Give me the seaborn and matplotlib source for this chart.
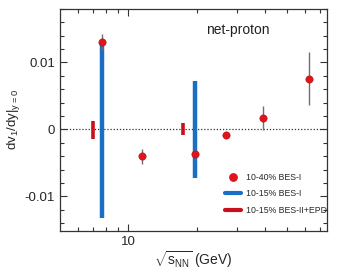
import matplotlib
matplotlib.use("Agg")
import matplotlib.pyplot as plt
from matplotlib.lines import Line2D
from matplotlib.ticker import FixedLocator, MultipleLocator, NullFormatter
import numpy as np
import pandas as pd
import seaborn as sns

# 10-40% BES-I (points)
energy_bes1 = [7.7, 11.5, 19.6, 27, 39, 62.4]
v1_bes1 = [0.0131, -0.0040, -0.0037, -0.00085, 0.00165, 0.0076]
err_bes1 = [0.0012, 0.0011, 0.0008, 0.0005, 0.0018, 0.0039]

# 10-15% BES-I (bands)
energy_c1 = [7.7, 19.6]
v1_c1 = [0.0, 0.0]
err_c1 = [0.0132, 0.0072]

# 10-15% BES-II+EPD (bands)
energy_c2 = [7.0, 17.5]
v1_c2 = [-0.00015, 0.0]
err_c2 = [0.00135, 0.0009]

red = "#e0141e"
blue = "#1a6fc4"
darkred = "#c8101a"

sns.set_style("ticks")
plt.rcParams["font.family"] = ["Liberation Sans", "DejaVu Sans"]
plt.rcParams["mathtext.fontset"] = "custom"
plt.rcParams["mathtext.rm"] = "Liberation Sans"
plt.rcParams["mathtext.it"] = "Liberation Sans"

fig = plt.figure(figsize=(3.4, 2.7), dpi=100)
ax = fig.add_axes([0.176, 0.144, 0.786, 0.823])

ax.axhline(0, color="#333333", ls=(0, (1, 1.5)), lw=0.9, zorder=1)

ax.vlines(energy_c1, np.array(v1_c1) - err_c1, np.array(v1_c1) + err_c1,
          color=blue, lw=3.2, zorder=2)
ax.vlines(energy_c2, np.array(v1_c2) - err_c2, np.array(v1_c2) + err_c2,
          color=darkred, lw=2.6, zorder=2)

ax.errorbar(energy_bes1, v1_bes1, yerr=err_bes1, fmt="none",
            ecolor="#707070", elinewidth=1.0, zorder=3)
df = pd.DataFrame({"e": energy_bes1, "v1": v1_bes1})
sns.scatterplot(data=df, x="e", y="v1", ax=ax, color=red, s=28,
                edgecolor="#b01010", linewidth=0.4, zorder=4)

ax.set_xscale("log")
ax.set_xlim(5, 75)
ax.set_ylim(-0.0152, 0.018)
ax.xaxis.set_major_locator(FixedLocator([10]))
ax.xaxis.set_minor_locator(FixedLocator([6, 7, 8, 9, 20, 30, 40, 50, 60, 70]))
ax.xaxis.set_minor_formatter(NullFormatter())
ax.set_xticklabels(["10"])
ax.yaxis.set_major_locator(FixedLocator([-0.01, 0, 0.01]))
ax.set_yticklabels(["-0.01", "0", "0.01"])
ax.yaxis.set_minor_locator(MultipleLocator(0.002))

ax.tick_params(which="both", direction="in", top=True, right=True,
               labelsize=9.5, width=0.8, color="#333333")
ax.tick_params(which="major", length=5)
ax.tick_params(which="minor", length=3)
for s in ax.spines.values():
    s.set_linewidth(0.9)
    s.set_color("#333333")

ax.set_xlabel(r"$\sqrt{s_{\rm NN}}$ (GeV)", fontsize=10, labelpad=1)
ax.set_ylabel(r"dv$_1$/dy|$_{y=0}$", fontsize=9.5, labelpad=2)
ax.text(0.665, 0.905, "net-proton", transform=ax.transAxes, fontsize=10,
        ha="center", va="center", color="#222222")

handles = [
    Line2D([], [], marker="o", ls="none", color=red, markersize=5.3),
    Line2D([], [], color=blue, lw=3),
    Line2D([], [], color=darkred, lw=3),
]
labels = ["10-40% BES-I", "10-15% BES-I", "10-15% BES-II+EPD"]
ax.legend(handles, labels, loc="lower right", frameon=False, fontsize=6.3,
          handlelength=1.8, handletextpad=0.6, labelspacing=0.85,
          bbox_to_anchor=(1.02, 0.05), borderaxespad=0.2)

fig.savefig("out.png", dpi=100)
